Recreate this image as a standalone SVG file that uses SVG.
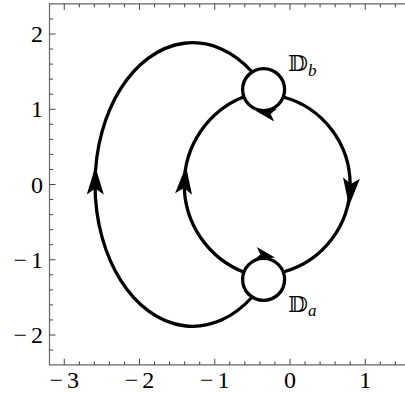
<svg xmlns="http://www.w3.org/2000/svg" width="405" height="393" viewBox="0 0 405 393">
<style>
.frame{fill:none;stroke:#666;stroke-width:1.2}
.tick{fill:none;stroke:#444;stroke-width:1}
.curve{fill:none;stroke:#000;stroke-width:3.3}
.node{fill:none;stroke:#000;stroke-width:3.3}
</style>
<defs>
<path id="ah" d="M0,0 L-28,-8.5 L-22,0 L-28,8.5 Z" fill="#000"/>
<path id="ahs" d="M0,0 L-20,-6.5 L-15,0 L-20,6.5 Z" fill="#000"/>
</defs>
<g id="axes">
<path class="frame" d="M405,3.9 H49.5 V364.8 H405"/>
<path class="tick" d="M64.25,364.8v-6M79.3,364.8v-3.5M94.35,364.8v-3.5M109.4,364.8v-3.5M124.45,364.8v-3.5M139.5,364.8v-6M154.55,364.8v-3.5M169.6,364.8v-3.5M184.65,364.8v-3.5M199.7,364.8v-3.5M214.75,364.8v-6M229.8,364.8v-3.5M244.85,364.8v-3.5M259.9,364.8v-3.5M274.95,364.8v-3.5M290,364.8v-6M305.05,364.8v-3.5M320.1,364.8v-3.5M335.15,364.8v-3.5M350.2,364.8v-3.5M365.25,364.8v-6M380.3,364.8v-3.5M395.35,364.8v-3.5
M64.25,3.9v6M79.3,3.9v3.5M94.35,3.9v3.5M109.4,3.9v3.5M124.45,3.9v3.5M139.5,3.9v6M154.55,3.9v3.5M169.6,3.9v3.5M184.65,3.9v3.5M199.7,3.9v3.5M214.75,3.9v6M229.8,3.9v3.5M244.85,3.9v3.5M259.9,3.9v3.5M274.95,3.9v3.5M290,3.9v6M305.05,3.9v3.5M320.1,3.9v3.5M335.15,3.9v3.5M350.2,3.9v3.5M365.25,3.9v6M380.3,3.9v3.5M395.35,3.9v3.5
M49.5,18.95h3.5M49.5,34h6M49.5,49.05h3.5M49.5,64.1h3.5M49.5,79.15h3.5M49.5,94.2h3.5M49.5,109.25h6M49.5,124.3h3.5M49.5,139.35h3.5M49.5,154.4h3.5M49.5,169.45h3.5M49.5,184.5h6M49.5,199.55h3.5M49.5,214.6h3.5M49.5,229.65h3.5M49.5,244.7h3.5M49.5,259.75h6M49.5,274.8h3.5M49.5,289.85h3.5M49.5,304.9h3.5M49.5,319.95h3.5M49.5,335h6M49.5,350.05h3.5"/>
<g font-family="Liberation Serif, Times New Roman, serif" font-size="24" fill="#000">
<text text-anchor="end" x="43" y="42">2</text>
<text text-anchor="end" x="43" y="117.25">1</text>
<text text-anchor="end" x="43" y="192.5">0</text>
<text text-anchor="end" x="43" y="267.75">−<tspan dx="4">1</tspan></text>
<text text-anchor="end" x="43" y="343">−<tspan dx="4">2</tspan></text>
<text text-anchor="middle" x="64.25" y="388">−<tspan dx="4">3</tspan></text>
<text text-anchor="middle" x="139.5" y="388">−<tspan dx="4">2</tspan></text>
<text text-anchor="middle" x="214.75" y="388">−<tspan dx="4">1</tspan></text>
<text text-anchor="middle" x="290" y="388">0</text>
<text text-anchor="middle" x="365.25" y="388">1</text>
</g>
</g>
<g id="connectors">
<path class="curve" d="M252.2,72 A97.7,141.8 0 1 0 252.2,297"/>
<path class="curve" d="M243.9,96.8 A94.3,94.3 0 0 0 243.9,272.2"/>
<path class="curve" d="M283.3,97 A90.7,90.7 0 0 1 283.3,272"/>
<use href="#ah" transform="translate(95.3,166.5) rotate(-90)"/>
<use href="#ah" transform="translate(186,166) rotate(-85)"/>
<use href="#ah" transform="translate(349,206) rotate(95)"/>
</g>
<g id="node-Db">
<circle class="node" cx="263.6" cy="89.6" r="21"/>
<use href="#ahs" transform="translate(256,111) rotate(192)"/>
<text font-family="DejaVu Serif, DejaVu Sans, serif" font-size="23" x="288" y="71">𝔻<tspan font-family="Liberation Serif, serif" font-style="italic" font-size="17" dy="5">b</tspan></text>
</g>
<g id="node-Da">
<circle class="node" cx="263.6" cy="279.4" r="21"/>
<use href="#ahs" transform="translate(275,257.5) rotate(12)"/>
<text font-family="DejaVu Serif, DejaVu Sans, serif" font-size="23" x="288" y="312">𝔻<tspan font-family="Liberation Serif, serif" font-style="italic" font-size="17" dy="4">a</tspan></text>
</g>
</svg>
